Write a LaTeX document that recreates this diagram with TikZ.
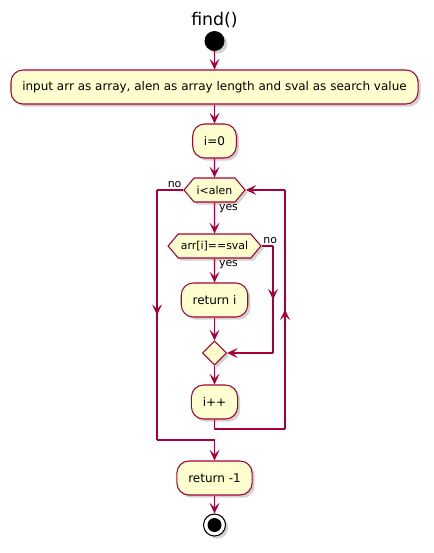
\documentclass[tikz,border=0pt]{standalone}
\usepackage{fontspec}
\setmainfont{DejaVu Sans}
\usetikzlibrary{arrows.meta,shapes.geometric,shapes.symbols,shadows,decorations.markings}
\definecolor{plum}{HTML}{A80036}
\definecolor{cream}{HTML}{FEFECE}
\tikzset{
  heading/.style={font=\fontsize{13}{15}\selectfont,text=black},
  shadowed/.style={drop shadow={shadow xshift=2pt,shadow yshift=-2pt,fill=black!40,opacity=0.45}},
  action/.style={rounded corners=9pt,draw=plum,fill=cream,line width=0.8pt,minimum height=25.5pt,inner xsep=8.5pt,font=\fontsize{9}{11}\selectfont,shadowed},
  decision/.style={signal,signal to=east and west,signal pointer angle=100,draw=plum,fill=cream,line width=0.8pt,minimum height=18pt,inner xsep=2pt,font=\fontsize{8.2}{10}\selectfont,shadowed},
  merger/.style={diamond,draw=plum,fill=cream,line width=0.8pt,minimum size=18pt,inner sep=0pt,shadowed},
  startdot/.style={circle,fill=black,minimum size=15pt,inner sep=0pt,shadowed},
  stopdot/.style={circle,draw=black,fill=white,line width=0.8pt,minimum size=16.5pt,inner sep=0pt,shadowed,path picture={\fill[black] (path picture bounding box.center) circle (5.25pt);}},
  lbl/.style={font=\fontsize{8.2}{10}\selectfont,inner sep=1pt},
  line/.style={draw=plum,line width=0.8pt,line join=round},
  arr/.style={line,-{Stealth[length=8pt,width=7.5pt,inset=3.5pt]}},
  midarr/.style={line,decoration={markings,mark=at position 0.5 with {\arrow{Stealth[length=8pt,width=7.5pt,inset=3.5pt]}}},postaction={decorate}}
}
\begin{document}
\begin{tikzpicture}[x=0.75pt,y=-0.75pt]
\path[use as bounding box] (0,0) rectangle (434,553);
\node[heading] (title) at (214.5,20) {find()};
\node[startdot] (start) at (214.5,41) {};
\node[action] (input) at (214.5,87) {input arr as array, alen as array length and sval as search value};
\node[action] (init) at (214.5,141) {i=0};
\node[decision] (loop) at (214.5,190) {i<alen};
\node[decision] (check) at (214.5,246) {arr[i]==sval};
\node[action] (ret) at (214.5,300) {return i};
\node[merger] (merge) at (214.5,353) {};
\node[action] (incr) at (214.5,402) {i++};
\node[action] (final) at (214.5,478) {return -1};
\node[stopdot] (stop) at (214.5,525) {};
\coordinate (nobend) at (273,246); \coordinate (nofoot) at (273,353);
\coordinate (exittop) at (157,190); \coordinate (exitfoot) at (157,440); \coordinate (exitjoin) at (214.5,440);
\coordinate (backfoot) at (214.5,429); \coordinate (backcorner) at (285,429); \coordinate (backtop) at (285,190);
\draw[arr] (start) -- (input);
\draw[arr] (input) -- (init);
\draw[arr] (init) -- (loop);
\draw[arr] (loop) -- node[pos=0,anchor=north west,lbl,xshift=2pt] {yes} (check);
\draw[arr] (check) -- node[pos=0,anchor=north west,lbl,xshift=2pt] {yes} (ret);
\draw[arr] (ret) -- (merge);
\draw[arr] (merge) -- (incr);
\draw[line] (check.east) -- node[pos=0,anchor=south west,lbl] {no} (nobend);
\draw[midarr] (nobend) -- (nofoot);
\draw[arr] (nofoot) -- (merge.east);
\draw[line] (loop.west) -- node[pos=0,anchor=south east,lbl] {no} (exittop);
\draw[midarr] (exittop) -- (exitfoot);
\draw[line] (exitfoot) -- (exitjoin);
\draw[arr] (exitjoin) -- (final);
\draw[line] (incr) -- (backfoot) -- (backcorner);
\draw[midarr] (backcorner) -- (backtop);
\draw[arr] (backtop) -- (loop.east);
\draw[arr] (final) -- (stop);
\end{tikzpicture}
\end{document}
